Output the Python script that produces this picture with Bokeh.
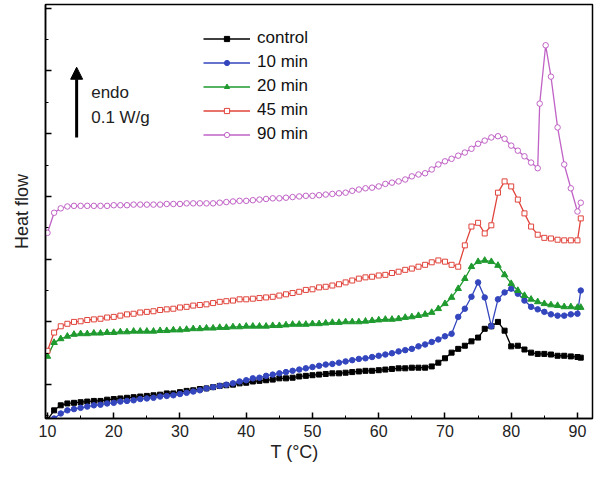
from bokeh.plotting import figure
from bokeh.models import (Range1d, SingleIntervalTicker, CustomJSTickFormatter, Legend,
                          LegendItem, Label, Arrow, NormalHead, Title)
from bokeh.embed import file_html
from bokeh.resources import INLINE

# Temperature (°C) sampling shared by control, 10, 20, 45 min curves
T = [10, 11, 12, 13, 14, 15, 16, 17, 18, 19,
     20, 21, 22, 23, 24, 25, 26, 27, 28, 29,
     30, 31, 32, 33, 34, 35, 36, 37, 38, 39,
     40, 41, 42, 43, 44, 45, 46, 47, 48, 49,
     50, 51, 52, 53, 54, 55, 56, 57, 58, 59,
     60, 61, 62, 63, 64, 65, 66, 67, 68, 69,
     70, 71, 72, 73, 74, 75, 76, 77, 78, 79,
     80, 81, 82, 83, 84, 85, 86, 87, 88, 89,
     90, 90.5]

# Heat flow (mW/g, offset curves)
control = [-56, -41, -33, -30, -29, -28, -27, -26, -26, -24,
           -23, -22, -21, -20, -19, -18, -17, -16, -14, -14,
           -12, -10, -9, -7, -6, -4, -2, -1, 0, 2,
           3, 5, 6, 7, 8, 10, 10, 11, 13, 14,
           15, 16, 17, 18, 18, 19, 20, 21, 22, 22,
           23, 24, 25, 26, 26, 27, 27, 27, 29, 35,
           42, 51, 57, 62, 69, 75, 89, 93, 100, 86,
           61, 62, 56, 51, 49, 49, 48, 46, 46, 45,
           44, 43]

min10 = [-64, -54, -46, -41, -39, -37, -35, -33, -32, -30,
         -29, -27, -26, -25, -23, -22, -21, -19, -18, -17,
         -15, -13, -11, -9, -6, -4, -2, 0, 2, 5,
         7, 10, 11, 14, 16, 18, 20, 22, 24, 26,
         28, 30, 32, 33, 35, 37, 39, 41, 42, 44,
         46, 48, 50, 53, 55, 57, 61, 64, 68, 72,
         77, 81, 108, 121, 140, 163, 139, 93, 136, 147,
         153, 145, 134, 124, 120, 116, 112, 110, 110, 112,
         113, 150]

min20 = [45, 67, 73, 77, 80, 81, 81, 82, 82, 83,
         83, 84, 84, 85, 85, 85, 85, 86, 86, 87,
         87, 88, 89, 89, 90, 90, 91, 91, 92, 92,
         93, 93, 93, 93, 94, 94, 95, 96, 96, 96,
         97, 97, 98, 99, 99, 100, 100, 100, 101, 102,
         103, 104, 104, 105, 107, 108, 110, 112, 115, 121,
         129, 139, 153, 169, 188, 196, 198, 196, 190, 175,
         161, 150, 142, 136, 132, 129, 127, 126, 124, 124,
         123, 123]

min45 = [54, 83, 93, 97, 100, 101, 103, 104, 105, 107,
         108, 110, 112, 113, 115, 116, 117, 119, 120, 121,
         123, 124, 126, 127, 128, 130, 132, 133, 134, 136,
         136, 137, 138, 139, 140, 142, 144, 146, 148, 151,
         152, 155, 156, 158, 160, 163, 166, 169, 171, 172,
         174, 175, 178, 180, 183, 185, 188, 191, 195, 198,
         196, 191, 188, 222, 252, 258, 241, 254, 306, 324,
         316, 295, 273, 252, 239, 234, 233, 231, 230, 230,
         230, 265]

# 90 min curve has its own sampling around the sharp peak
T90 = [10, 11, 12, 13, 14, 15, 16, 17, 18, 19,
       20, 21, 22, 23, 24, 25, 26, 27, 28, 29,
       30, 31, 32, 33, 34, 35, 36, 37, 38, 39,
       40, 41, 42, 43, 44, 45, 46, 47, 48, 49,
       50, 51, 52, 53, 54, 55, 56, 57, 58, 59,
       60, 61, 62, 63, 64, 65, 66, 67, 68, 69,
       70, 71, 72, 73, 74, 75, 76, 77, 78, 79,
       80, 81, 82, 83, 84, 84.3, 85.2, 86, 87, 88,
       89, 90, 90.5]

min90 = [242, 274, 281, 284, 285, 285, 285, 285, 285, 285,
         286, 286, 286, 287, 287, 287, 287, 287, 288, 288,
         288, 289, 289, 289, 289, 289, 290, 291, 292, 293,
         293, 294, 295, 296, 297, 297, 298, 299, 300, 301,
         301, 302, 303, 304, 305, 306, 309, 311, 313, 314,
         316, 320, 322, 324, 327, 332, 335, 337, 343, 351,
         356, 360, 365, 370, 376, 384, 389, 394, 396, 392,
         381, 373, 364, 354, 345, 448, 541, 491, 410, 351,
         313, 276, 290]

series = [
    ("control", T, control, "black", "square", "black", 5),
    ("10 min", T, min10, "#3446BE", "circle", "#3446BE", 5.5),
    ("20 min", T, min20, "#1E9A2E", "triangle", "#1E9A2E", 6.5),
    ("45 min", T, min45, "#E0443C", "square", "white", 5),
    ("90 min", T90, min90, "#C062C6", "circle", "white", 5.5),
]

FONT = "Liberation Sans"

p = figure(width=594, height=464, output_backend="svg", toolbar_location=None,
           x_range=Range1d(9.7, 92.27), y_range=Range1d(-54, 606),
           min_border_left=45, min_border_right=2, min_border_top=4, min_border_bottom=46)
p.xgrid.visible = False
p.ygrid.visible = False
p.outline_line_color = "black"
p.outline_line_width = 1.5
p.background_fill_color = "white"
p.border_fill_color = "white"

items = []
for name, xs, ys, col, marker, fill, size in series:
    r1 = p.line(xs, ys, line_color=col, line_width=1.3)
    r2 = p.scatter(xs, ys, marker=marker, size=size, line_color=col, fill_color=fill, line_width=1)
    items.append(LegendItem(label=name, renderers=[r1, r2]))

legend = Legend(items=items, location=(158, 272), orientation="vertical",
                border_line_color=None, background_fill_alpha=0, padding=0, margin=0,
                spacing=0, glyph_width=47, glyph_height=13, label_height=24,
                label_standoff=7, label_text_font=FONT, label_text_font_size="17px",
                label_text_color="#111")
p.add_layout(legend)

# x axis
p.xaxis.ticker = SingleIntervalTicker(interval=10, num_minor_ticks=2)
p.xaxis.major_tick_in = 6
p.xaxis.major_tick_out = 0
p.xaxis.minor_tick_in = 3
p.xaxis.minor_tick_out = 0
p.xaxis.major_tick_line_width = 1.5
p.xaxis.axis_line_width = 1.5
p.xaxis.major_label_text_font = FONT
p.xaxis.major_label_text_font_size = "16px"
p.xaxis.major_label_text_color = "#222"
p.xaxis.major_label_standoff = 6

xtitle = Title(text="T (°C)", align="left", offset=225, standoff=0,
               text_font=FONT, text_font_size="18px", text_font_style="normal",
               text_color="#222")
p.add_layout(xtitle, "below")

# y axis (no numeric labels)
p.yaxis.ticker = SingleIntervalTicker(interval=100, num_minor_ticks=2)
p.yaxis.formatter = CustomJSTickFormatter(code="return ''")
p.yaxis.major_tick_in = 6
p.yaxis.major_tick_out = 0
p.yaxis.minor_tick_in = 3
p.yaxis.minor_tick_out = 0
p.yaxis.major_tick_line_width = 1.5
p.yaxis.axis_line_width = 1.5
p.yaxis.major_label_standoff = 0
p.yaxis.axis_label = "Heat flow"
p.yaxis.axis_label_text_font = FONT
p.yaxis.axis_label_text_font_size = "18px"
p.yaxis.axis_label_text_font_style = "normal"
p.yaxis.axis_label_text_color = "#222"
p.yaxis.axis_label_standoff = 14

p.add_layout(Arrow(end=NormalHead(size=12, fill_color="black", line_color="black"),
                   x_start=14.4, y_start=394, x_end=14.4, y_end=506,
                   line_width=3, line_color="black"))
p.add_layout(Label(x=16.6, y=466, text="endo", text_baseline="middle",
                   text_font=FONT, text_font_size="17px", text_color="#222"))
p.add_layout(Label(x=16.6, y=426, text="0.1 W/g", text_baseline="middle",
                   text_font=FONT, text_font_size="17px", text_color="#222"))

open("out.html", "w").write(file_html(p, INLINE))
